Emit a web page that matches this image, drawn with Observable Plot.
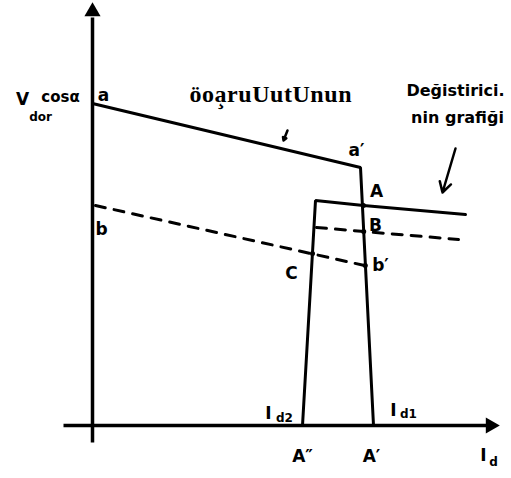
<!DOCTYPE html>
<html>
<head>
<meta charset="utf-8">
<script src="https://cdn.jsdelivr.net/npm/d3@7"></script>
<script src="https://cdn.jsdelivr.net/npm/@observablehq/plot@0.6"></script>
<style>
  html, body { margin: 0; padding: 0; background: #fff; }
  svg { display: block; }
</style>
</head>
<body>
<div id="chart"></div>
<script>
// Rectifier characteristic a – a′ – A′ (voltage vs. direct current)
const rectifierCurve = [
  {x: 0, y: 80.5},
  {x: 67, y: 64.5},
  {x: 70.25, y: 0}
];
// Changer characteristic A″ – top corner – A – end
const changerCurve = [
  {x: 52.5, y: 0},
  {x: 55.75, y: 56.25},
  {x: 67.75, y: 55},
  {x: 93.25, y: 52.75}
];
// Dashed line b – C – b′
const lineB = [
  {x: 0.75, y: 55},
  {x: 68, y: 40}
];
// Dashed line through B
const lineUpperB = [
  {x: 56, y: 49.5},
  {x: 91.5, y: 46.5}
];
// Intersection points C, A, B, b′
const crossings = [
  {x: 55, y: 43},
  {x: 67.75, y: 55},
  {x: 67.8, y: 48.5},
  {x: 68.2, y: 40}
];
// Axes
const axisLines = [
  {x1: 0, y1: -4.25, x2: 0, y2: 102},
  {x1: -7.25, y1: 0, x2: 99, y2: 0}
];
const axisHeads = [
  {x: 0, y: 103.5, rotate: 0},
  {x: 99.5, y: 0, rotate: 90}
];
// Pointer arrows
const pointers = [
  {x1: 48.75, y1: 73.75, x2: 47.75, y2: 71.25},
  {x1: 90.75, y1: 69.25, x2: 87.5, y2: 58.25}
];
// Point labels
const pointLabels = [
  {x: 2.75, y: 82.5, text: "a"},
  {x: 2.25, y: 49, text: "b"},
  {x: 66, y: 68.75, text: "a′"},
  {x: 71, y: 58.5, text: "A"},
  {x: 70.75, y: 50, text: "B"},
  {x: 72, y: 40, text: "b′"},
  {x: 49.75, y: 38, text: "C"},
  {x: 52.5, y: -7.75, text: "A″"},
  {x: 69.75, y: -7.75, text: "A′"},
  {x: 44, y: 3, text: "I"},
  {x: 75.25, y: 3.75, text: "I"},
  {x: 97.75, y: -7.5, text: "I"},
  {x: -17.5, y: 81.5, text: "V"}
];
const factorLabel = [{x: -8, y: 82, text: "cosα"}];
const subLabels = [
  {x: 48, y: 1.75, text: "d2"},
  {x: 79, y: 2.75, text: "d1"},
  {x: 100.25, y: -9.25, text: "d"},
  {x: -13, y: 77, text: "dor"}
];
const titleText = [{x: 44.5, y: 82.75, text: "öoa̧ruUutUnun"}];
const noteLines = [
  {x: 90.75, y: 83.75, text: "Değistirici."},
  {x: 91.25, y: 77, text: "nin grafiği"}
];

const hand = "DejaVu Sans, sans-serif";

const chart = Plot.plot({
  width: 511,
  height: 478,
  marginLeft: 92,
  marginRight: 19,
  marginTop: 25,
  marginBottom: 53,
  x: {domain: [0, 100], axis: null},
  y: {domain: [0, 100], axis: null},
  marks: [
    Plot.link(axisLines, {x1: "x1", y1: "y1", x2: "x2", y2: "y2", stroke: "black", strokeWidth: 3.5}),
    Plot.dot(axisHeads, {x: "x", y: "y", rotate: "rotate", symbol: "triangle", r: 6, fill: "black"}),
    Plot.line(rectifierCurve, {x: "x", y: "y", stroke: "black", strokeWidth: 3, strokeLinejoin: "miter"}),
    Plot.line(changerCurve, {x: "x", y: "y", stroke: "black", strokeWidth: 3, strokeLinejoin: "miter"}),
    Plot.line(lineB, {x: "x", y: "y", stroke: "black", strokeWidth: 3, strokeDasharray: "10,9"}),
    Plot.line(lineUpperB, {x: "x", y: "y", stroke: "black", strokeWidth: 3, strokeDasharray: "10,9"}),
    Plot.dot(crossings, {x: "x", y: "y", r: 2.5, fill: "black"}),
    Plot.arrow(pointers, {x1: "x1", y1: "y1", x2: "x2", y2: "y2", stroke: "black", strokeWidth: 2.5, headLength: 7}),
    Plot.text(pointLabels, {x: "x", y: "y", text: "text", fontFamily: hand, fontWeight: "bold", fontSize: 17, fill: "black"}),
    Plot.text(factorLabel, {x: "x", y: "y", text: "text", fontFamily: hand, fontWeight: "bold", fontSize: 15, fill: "black"}),
    Plot.text(subLabels, {x: "x", y: "y", text: "text", fontFamily: hand, fontWeight: "bold", fontSize: 12, fill: "black"}),
    Plot.text(titleText, {x: "x", y: "y", text: "text", fontFamily: "Liberation Serif, serif", fontWeight: "bold", fontSize: 24, fill: "black", className: "title-text"}),
    Plot.text(noteLines, {x: "x", y: "y", text: "text", fontFamily: hand, fontWeight: "bold", fontSize: 16, fill: "black"})
  ]
});

// Fit the heading to its full width
d3.select(chart).selectAll(".title-text text")
  .attr("textLength", 162)
  .attr("lengthAdjust", "spacing");

document.getElementById("chart").appendChild(chart);
</script>
</body>
</html>
